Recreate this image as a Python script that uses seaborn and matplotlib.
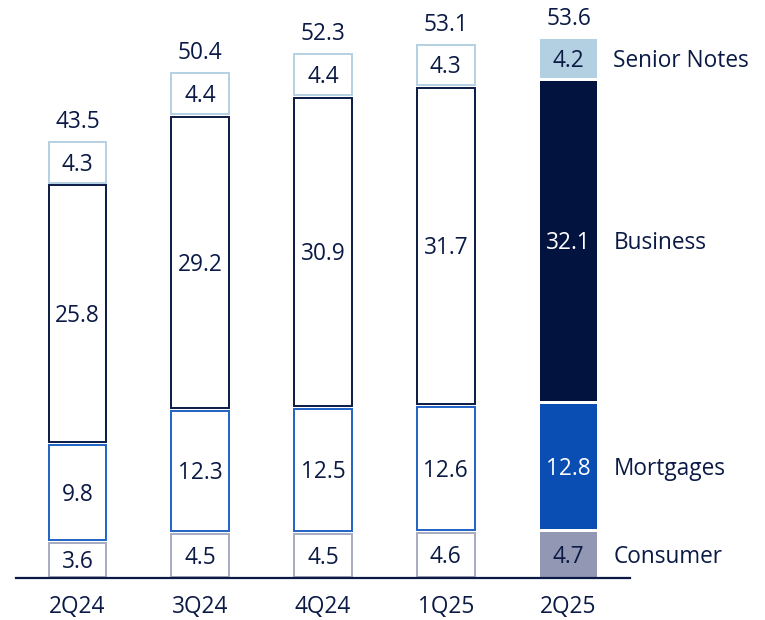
import matplotlib
matplotlib.use("Agg")
import matplotlib.pyplot as plt
import seaborn as sns
import numpy as np

quarters = ["2Q24", "3Q24", "4Q24", "1Q25", "2Q25"]
series_names = ["Consumer", "Mortgages", "Business", "Senior Notes"]
consumer = [3.6, 4.5, 4.5, 4.6, 4.7]
mortgages = [9.8, 12.3, 12.5, 12.6, 12.8]
business = [25.8, 29.2, 30.9, 31.7, 32.1]
senior_notes = [4.3, 4.4, 4.4, 4.3, 4.2]
totals = [43.5, 50.4, 52.3, 53.1, 53.6]

fill_colors = ["#9297b3", "#0a4db3", "#03133f", "#b3d0e2"]
edge_colors = ["#a7abc0", "#1f62c6", "#0b1a45", "#b3d0e2"]
label_colors_filled = ["#0b1a45", "white", "white", "#0b1a45"]
text_color = "#0b1a45"

sns.set_theme(style="white")
plt.rcParams["font.family"] = ["Open Sans", "DejaVu Sans"]
FS = 16.3
DY = -0.25

W, H = 765, 620
fig = plt.figure(figsize=(W / 100, H / 100), dpi=100)
ax = fig.add_axes([16 / W, 42 / H, 614 / W, 570 / H])

gap = 0.28
values = [consumer, mortgages, business, senior_notes]
bottoms = np.zeros(len(quarters))
for si, vals in enumerate(values):
    vals = np.array(vals, dtype=float)
    n_before = len(ax.patches)
    sns.barplot(x=quarters, y=vals - gap, bottom=bottoms + gap / 2, order=quarters,
                width=0.47, ax=ax, color=fill_colors[si], saturation=1)
    new = ax.patches[n_before:]
    for qi, p in enumerate(new):
        if qi < len(quarters) - 1:
            p.set_facecolor("white")
            p.set_edgecolor(edge_colors[si])
            p.set_linewidth(1.4)
        else:
            p.set_facecolor(fill_colors[si])
            p.set_edgecolor("none")
    for qi in range(len(quarters)):
        mid = bottoms[qi] + vals[qi] / 2 + DY
        col = label_colors_filled[si] if qi == len(quarters) - 1 else text_color
        ax.text(qi, mid, f"{vals[qi]:.1f}", ha="center", va="center",
                fontsize=FS, color=col)
    last = len(quarters) - 1
    ax.text(last + 0.365, bottoms[last] + vals[last] / 2 + DY, series_names[si],
            ha="left", va="center", fontsize=FS, color=text_color, clip_on=False)
    bottoms = bottoms + vals

for qi, t in enumerate(totals):
    ax.text(qi, bottoms[qi] + 2.1 + DY, f"{t:.1f}", ha="center", va="center",
            fontsize=FS, color=text_color)

ax.set_xlim(-0.5, 4.5)
ax.set_ylim(0, 570 / 10.05)
ax.set_yticks([])
ax.set_ylabel("")
ax.set_xlabel("")
for s in ["top", "right", "left"]:
    ax.spines[s].set_visible(False)
ax.spines["bottom"].set_color(text_color)
ax.spines["bottom"].set_linewidth(1.6)
ax.tick_params(axis="x", length=0, pad=12, labelsize=FS, colors=text_color)
ax.patch.set_alpha(0)

fig.savefig("out.png", dpi=100)
